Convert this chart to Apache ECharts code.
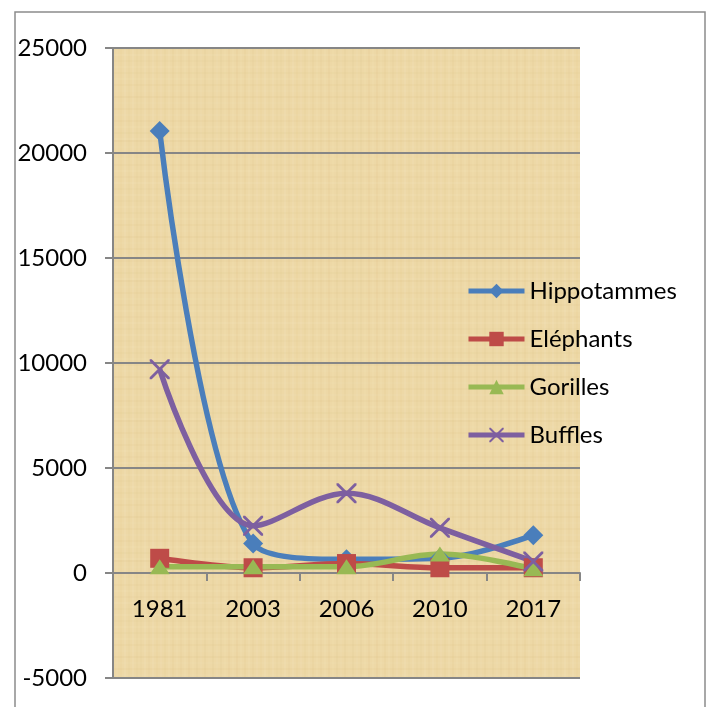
<!DOCTYPE html>
<html>
<head>
<meta charset="utf-8">
<script src="https://cdn.jsdelivr.net/npm/echarts@6/dist/echarts.min.js"></script>
<style>
  html, body { margin: 0; padding: 0; background: #fff; }
  #chart { width: 707px; height: 707px; }
</style>
</head>
<body>
<div id="chart"></div>
<script>
// données
const years = ['1981', '2003', '2006', '2010', '2017'];
const hippos = [21050, 1400, 650, 700, 1800];
const elephants = [700, 250, 450, 250, 250];
const gorilles = [300, 300, 300, 900, 200];
const buffles = [9700, 2250, 3800, 2150, 550];

const yTicks = { min: -5000, max: 25000, interval: 5000 };

// texture papyrus approximative
function papyrus() {
  const c = document.createElement('canvas');
  c.width = 140; c.height = 140;
  const g = c.getContext('2d');
  g.fillStyle = '#edd8a6';
  g.fillRect(0, 0, 140, 140);
  for (let i = 0; i < 140; i += 4) {
    const a = 0.04 + 0.04 * Math.abs(Math.sin(i * 0.37));
    g.fillStyle = (i / 4) % 2 ? 'rgba(255,248,225,' + a + ')' : 'rgba(210,180,110,' + a + ')';
    g.fillRect(i, 0, 2, 140);
  }
  for (let j = 0; j < 140; j += 6) {
    const a = 0.03 + 0.04 * Math.abs(Math.cos(j * 0.23));
    g.fillStyle = (j / 6) % 2 ? 'rgba(255,248,225,' + a + ')' : 'rgba(205,175,105,' + a + ')';
    g.fillRect(0, j, 140, 2);
  }
  return c;
}

const chart = echarts.init(document.getElementById('chart'));
const font = 'Lato';
const X_PATH = 'path://M0,0 L2,0 L10,8 L18,0 L20,0 L20,2 L12,10 L20,18 L20,20 L18,20 L10,12 L2,20 L0,20 L0,18 L8,10 L0,2 Z';

function line(name, data, color, symbol, size) {
  return {
    name: name,
    type: 'line',
    data: data,
    smooth: 0.35,
    symbol: symbol,
    symbolSize: size,
    showSymbol: true,
    lineStyle: { color: color, width: 5.5 },
    itemStyle: { color: color },
    emphasis: { disabled: true }
  };
}

chart.setOption({
  animation: false,
  backgroundColor: '#fff',
  graphic: [{
    type: 'rect',
    shape: { x: 15, y: 12, width: 690, height: 720 },
    style: { fill: 'none', stroke: '#8c8c8c', lineWidth: 1.5 },
    z: -1
  }],
  grid: {
    left: 113, right: 127, top: 48, bottom: 29,
    outerBoundsMode: 'none',
    containLabel: false,
    show: true,
    backgroundColor: { image: papyrus(), repeat: 'repeat' },
    borderWidth: 0
  },
  legend: {
    orient: 'vertical',
    left: 461,
    top: 274,
    itemWidth: 56,
    itemHeight: 18,
    itemGap: 24,
    lineStyle: { width: 5 },
    textStyle: { fontFamily: font, fontSize: 24, color: '#000' },
    data: ['Hippotammes', 'Eléphants', 'Gorilles', 'Buffles']
  },
  xAxis: {
    type: 'category',
    data: years,
    boundaryGap: true,
    offset: -105,
    axisLine: { onZero: false, lineStyle: { color: '#868686', width: 2 } },
    axisTick: { show: true, length: 8, lineStyle: { color: '#868686', width: 2 } },
    axisLabel: { margin: 24, fontFamily: font, fontSize: 24, color: '#000' },
    splitLine: { show: false }
  },
  yAxis: {
    type: 'value',
    min: yTicks.min,
    max: yTicks.max,
    interval: yTicks.interval,
    axisLine: { show: true, lineStyle: { color: '#868686', width: 2 } },
    axisTick: { show: true, length: 8, lineStyle: { color: '#868686', width: 2 } },
    axisLabel: { margin: 26, fontFamily: font, fontSize: 24, color: '#000', formatter: v => String(v) },
    splitLine: { show: true, lineStyle: { color: '#868686', width: 2 } }
  },
  series: [
    line('Hippotammes', hippos, '#4a7ebb', 'diamond', 20),
    line('Eléphants', elephants, '#be4b48', 'rect', 19),
    line('Gorilles', gorilles, '#98b954', 'triangle', [20, 15]),
    line('Buffles', buffles, '#7d5fa0', X_PATH, 20)
  ]
});
</script>
</body>
</html>
